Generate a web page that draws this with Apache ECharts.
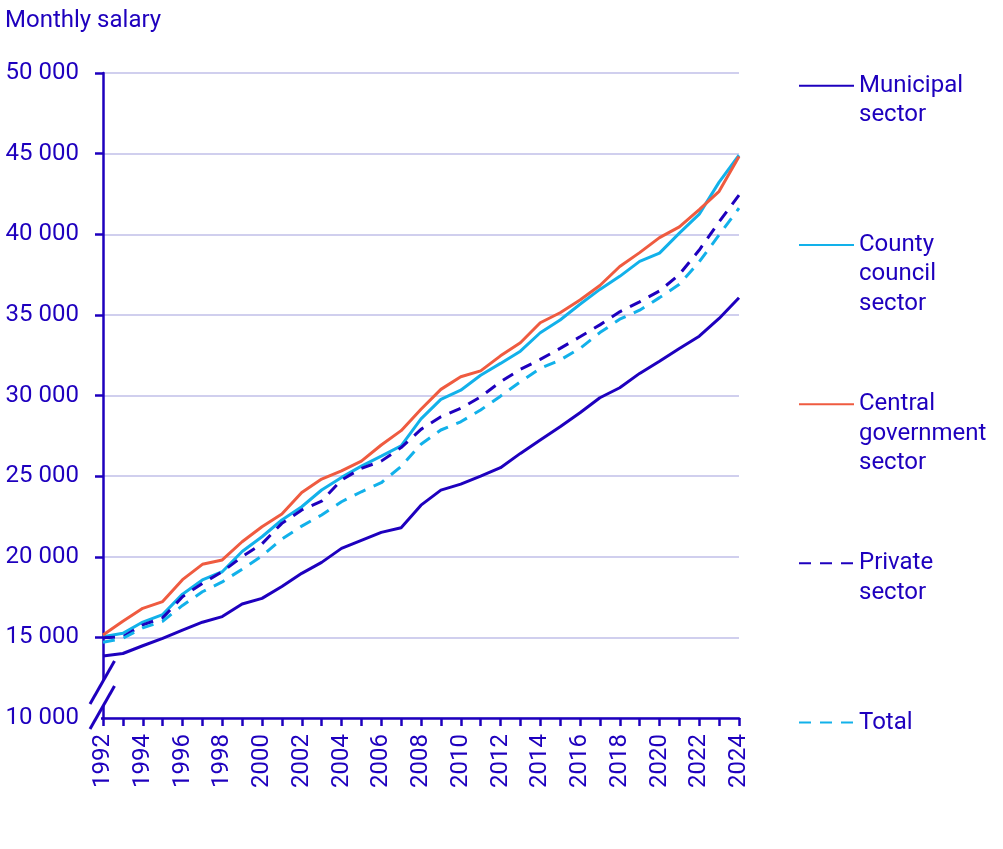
<!DOCTYPE html>
<html>
<head>
<meta charset="utf-8">
<script src="https://cdn.jsdelivr.net/npm/echarts@6/dist/echarts.min.js"></script>
<style>
html,body{margin:0;padding:0;background:#fff;}
#chart{width:1003px;height:849px;}
</style>
</head>
<body>
<div id="chart"></div>
<script>
// monthly salary by sector, 1992-2024
var years = [];
for (var y = 1992; y <= 2024; y++) years.push(String(y));

var municipal = [13850, 14000, 14480, 14940, 15450, 15940, 16290, 17070, 17420, 18160, 18970, 19650, 20520, 21020, 21510, 21800, 23200, 24130, 24500, 25000, 25520, 26410, 27240, 28060, 28930, 29860, 30480, 31370, 32130, 32920, 33680, 34780, 36060];
var countyCouncil = [15040, 15250, 15950, 16410, 17680, 18560, 19070, 20330, 21240, 22280, 23100, 24140, 24920, 25620, 26240, 26880, 28550, 29760, 30330, 31260, 31990, 32750, 33890, 34680, 35660, 36580, 37390, 38320, 38830, 40070, 41250, 43230, 44900];
var centralGov = [15150, 16000, 16800, 17220, 18580, 19530, 19800, 20930, 21860, 22650, 23990, 24820, 25330, 25930, 26930, 27820, 29150, 30380, 31160, 31530, 32460, 33270, 34510, 35130, 35920, 36820, 38000, 38860, 39790, 40460, 41530, 42660, 44820];
var privateSec = [14970, 15040, 15770, 16210, 17520, 18350, 19070, 20000, 20800, 22070, 22900, 23450, 24760, 25480, 25930, 26770, 27900, 28680, 29200, 29920, 30850, 31620, 32240, 32920, 33640, 34380, 35190, 35810, 36480, 37510, 39020, 40770, 42430];
var total = [14700, 14940, 15590, 16000, 16980, 17830, 18440, 19230, 20050, 21100, 21900, 22590, 23410, 24030, 24590, 25600, 26980, 27860, 28370, 29100, 29960, 30850, 31680, 32200, 32920, 33900, 34730, 35290, 36070, 36900, 38290, 39960, 41620];

var seriesNames = ['Municipal sector', 'County council sector', 'Central government sector', 'Private sector', 'Total'];
var legendLines = {
	'Municipal sector': ['Municipal', 'sector'],
	'County council sector': ['County', 'council', 'sector'],
	'Central government sector': ['Central', 'government', 'sector'],
	'Private sector': ['Private', 'sector'],
	'Total': ['Total']
};

var txt = '#1e00be';
var darkBlue = '#1e00be';
var lightBlue = '#12b1ea';
var orange = '#ef5b40';
var font = 'Roboto';
var fs = 24;

function fmt(v){
	return String(v).replace(/\B(?=(\d{3})+(?!\d))/g, ' ');
}

// pad each legend label to 5 lines so the icon sits on the first line
function legendText(name){
	var l = legendLines[name].slice();
	var out = [' ', ' '];
	for (var i = 0; i < 3; i++) out.push(l[i] !== undefined ? l[i] : ' ');
	return out.join('\n');
}

function line(name, data, color, dashed){
	return {
		name: name,
		type: 'line',
		data: data,
		symbol: 'none',
		smooth: false,
		lineStyle: { color: color, width: 3, type: dashed ? [12, 9] : 'solid' },
		itemStyle: { color: color }
	};
}

var myChart = echarts.init(document.getElementById('chart'));
myChart.setOption({
	animation: false,
	backgroundColor: '#fff',
	title: {
		text: 'Monthly salary',
		left: 0,
		top: 4,
		textStyle: { color: txt, fontSize: fs, fontWeight: 'normal', fontFamily: font }
	},
	grid: { left: 103, right: 264, top: 73, bottom: 131 },
	legend: {
		orient: 'vertical',
		left: 798,
		top: 12,
		padding: 0,
		itemWidth: 55,
		itemHeight: 10,
		itemGap: 11.7,
		data: seriesNames,
		formatter: legendText,
		itemStyle: { opacity: 0 },
		textStyle: { color: txt, fontSize: fs, fontFamily: font, lineHeight: 29.5 }
	},
	xAxis: {
		type: 'category',
		data: years,
		boundaryGap: false,
		axisLine: { lineStyle: { color: darkBlue, width: 2.5 } },
		axisTick: { show: true, interval: 0, length: 8, lineStyle: { color: darkBlue, width: 2.5 } },
		axisLabel: { interval: 1, rotate: 90, margin: 16, color: txt, fontSize: fs, fontFamily: font },
		splitLine: { show: false }
	},
	yAxis: {
		type: 'value',
		min: 10000,
		max: 50000,
		interval: 5000,
		axisLine: { show: true, lineStyle: { color: darkBlue, width: 2.5 } },
		axisTick: { show: true, length: 8, lineStyle: { color: darkBlue, width: 2.5 } },
		axisLabel: { margin: 24, color: txt, fontSize: fs, fontFamily: font, formatter: fmt },
		splitLine: { show: true, lineStyle: { color: '#d0cfee', width: 2 } }
	},
	series: [
		line('Municipal sector', municipal, darkBlue, false),
		line('County council sector', countyCouncil, lightBlue, false),
		line('Central government sector', centralGov, orange, false),
		line('Private sector', privateSec, darkBlue, true),
		line('Total', total, lightBlue, true)
	],
	graphic: [
		// axis break
		{ type: 'polygon', z: 100, shape: { points: [[90, 704], [114.5, 661], [114.5, 686], [90, 729]] }, style: { fill: '#fff' } },
		{ type: 'rect', z: 100, shape: { x: 91, y: 714, width: 10, height: 8 }, style: { fill: '#fff' } },
		{ type: 'line', z: 101, shape: { x1: 90, y1: 704, x2: 114.5, y2: 661 }, style: { stroke: darkBlue, lineWidth: 3 } },
		{ type: 'line', z: 101, shape: { x1: 90, y1: 729, x2: 114.5, y2: 686 }, style: { stroke: darkBlue, lineWidth: 3 } }
	]
});
</script>
</body>
</html>
